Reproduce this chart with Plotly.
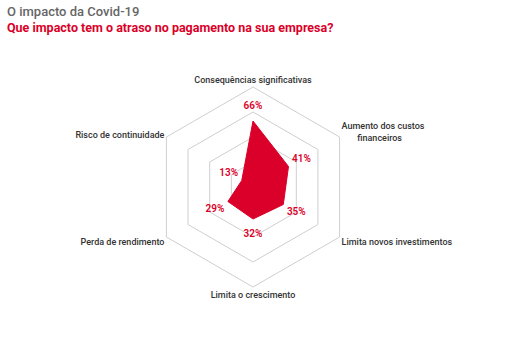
import plotly.graph_objects as go

categories = ["Consequências significativas", "Aumento dos custos<br>\u00a0\u00a0\u00a0\u00a0\u00a0\u00a0\u00a0financeiros",
              "Limita novos investimentos", "Limita o crescimento",
              "Perda de rendimento", "Risco de continuidade"]
values = [66, 41, 35, 32, 29, 13]
label_offset = 15
labels = [f"{v}%" for v in values]

RED = "#DA0029"
FONT = "Roboto"
W, H = 507, 338
cx, cy, R = 253, 187, 100

fig = go.Figure()
fig.add_trace(go.Scatterpolar(
    r=values + values[:1], theta=categories + categories[:1],
    mode="lines", fill="toself", fillcolor=RED,
    line=dict(color=RED, width=1), hoverinfo="skip", showlegend=False))
fig.add_trace(go.Scatterpolar(
    r=[v + label_offset for v in values], theta=categories,
    mode="text", text=labels,
    textfont=dict(family=FONT, size=10, color=RED, weight=600),
    hoverinfo="skip", showlegend=False))

fig.update_layout(
    width=W, height=H, margin=dict(l=0, r=0, t=0, b=0),
    paper_bgcolor="white", plot_bgcolor="white",
    showlegend=False,
    polar=dict(
        domain=dict(x=[(cx - R) / W, (cx + R) / W], y=[(H - cy - R) / H, (H - cy + R) / H]),
        gridshape="linear", bgcolor="white",
        radialaxis=dict(range=[0, 100], tickvals=[25, 50, 75, 100], showticklabels=False,
                        ticks="", showline=False, gridcolor="#cfcfcf", gridwidth=1),
        angularaxis=dict(direction="clockwise", rotation=90, showgrid=False,
                         showline=True, linecolor="#cfcfcf", linewidth=1, ticks="",
                         tickfont=dict(family=FONT, size=9, color="#333333", weight=500)),
    ),
    annotations=[
        dict(text="O impacto da Covid-19", x=5 / W, y=1 - 12 / H, xref="paper", yref="paper",
             xanchor="left", yanchor="middle", showarrow=False,
             font=dict(family=FONT, size=13, color="#666666", weight=500)),
        dict(text="<b>Que impacto tem o atraso no pagamento na sua empresa?</b>",
             x=5 / W, y=1 - 28 / H, xref="paper", yref="paper",
             xanchor="left", yanchor="middle", showarrow=False,
             font=dict(family=FONT, size=12.5, color=RED)),
    ],
)
fig.write_html("out.html")
